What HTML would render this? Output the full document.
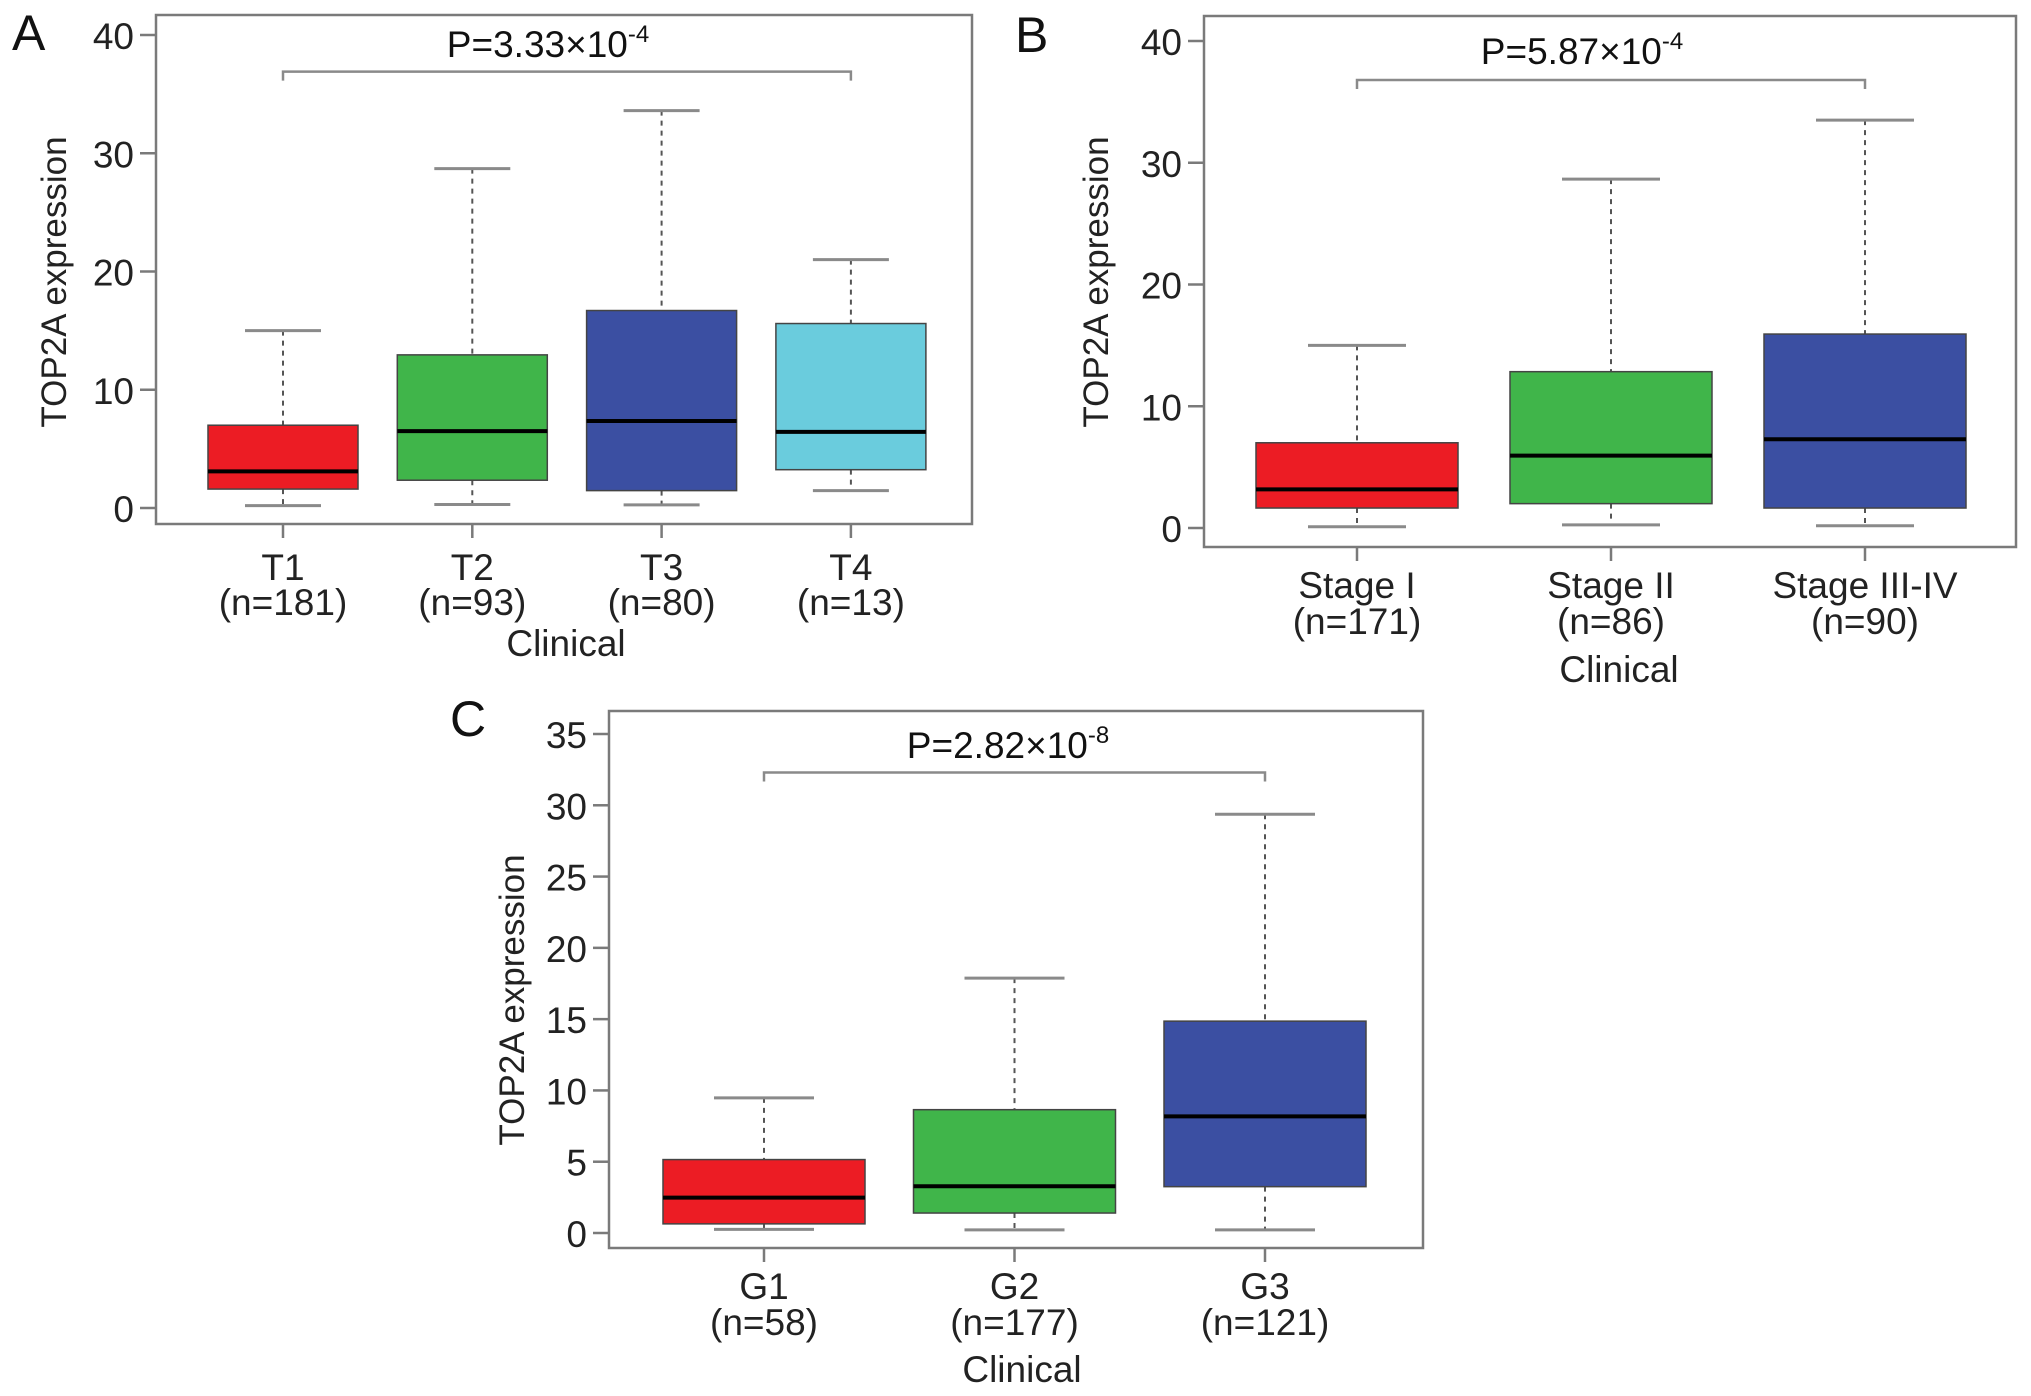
<!DOCTYPE html>
<html><head><meta charset="utf-8"><style>
html,body{margin:0;padding:0;background:#fff;}
svg{display:block;font-family:"Liberation Sans",Arial,sans-serif;}
</style></head><body>
<svg id="fig" width="2031" height="1396" viewBox="0 0 2031 1396"></svg>
<script>
// ---- Panel A data ----
const catsA = ["T1","T2","T3","T4"];
const nA = ["(n=181)","(n=93)","(n=80)","(n=13)"];
const loA = [0.2,0.3,0.26,1.47];
const q1A = [1.6,2.35,1.47,3.24];
const medA = [3.1,6.5,7.36,6.44];
const q3A = [7.0,12.95,16.7,15.6];
const hiA = [15.0,28.7,33.6,21.0];
const ticksA = [0,10,20,30,40];
const pA = ["3.33×10","-4"];
// ---- Panel B data ----
const catsB = ["Stage I","Stage II","Stage III-IV"];
const nB = ["(n=171)","(n=86)","(n=90)"];
const loB = [0.1,0.26,0.18];
const q1B = [1.64,2.0,1.64];
const medB = [3.17,5.94,7.29];
const q3B = [7.0,12.84,15.93];
const hiB = [15.0,28.66,33.5];
const ticksB = [0,10,20,30,40];
const pB = ["5.87×10","-4"];
// ---- Panel C data ----
const catsC = ["G1","G2","G3"];
const nC = ["(n=58)","(n=177)","(n=121)"];
const loC = [0.25,0.22,0.22];
const q1C = [0.64,1.4,3.25];
const medC = [2.48,3.28,8.18];
const q3C = [5.15,8.65,14.86];
const hiC = [9.48,17.88,29.37];
const ticksC = [0,5,10,15,20,25,30,35];
const pC = ["2.82×10","-8"];

const NS="http://www.w3.org/2000/svg";
const svg=document.getElementById('fig');
function mk(tag,attrs,parent,text){
  const e=document.createElementNS(NS,tag);
  for(const k in attrs) e.setAttribute(k,attrs[k]);
  if(text!==undefined) e.textContent=text;
  (parent||svg).appendChild(e); return e;
}
const colors=["#ec1c24","#40b54a","#3b4fa2","#6accdd"];

function panel(cfg, cats, ns, lo, q1, med, q3, hi, ticks, pv){
  const g=mk('g',{});
  
  
  const y=v=>cfg.y0+(cfg.yTop-cfg.y0)*(v-ticks[0])/(ticks[ticks.length-1]-ticks[0]);
  const x=i=>cfg.c0+i*cfg.step;
  const fr=mk('rect',{x:cfg.fl,y:cfg.ft,width:cfg.fr-cfg.fl,height:cfg.fb-cfg.ft,fill:'none',stroke:'#7a7a7a','stroke-width':2.5},g);
  
  
  const L=mk('text',{x:cfg.lx,y:cfg.ly,'font-size':50,fill:'#111'},g,cfg.letter);
  
  
  ticks.forEach(t=>{
    const ty=y(t);
    mk('line',{x1:cfg.fl-16,x2:cfg.fl,y1:ty,y2:ty,stroke:'#7a7a7a','stroke-width':2.5},g);
    const tl=mk('text',{x:cfg.fl-22,y:ty+14,'font-size':37,'text-anchor':'end',fill:'#222'},g,String(t));
    
    
  });
  const yt=mk('text',{x:0,y:0,'font-size':35,'text-anchor':'middle',fill:'#222',transform:`translate(${cfg.ytx},${cfg.yty}) rotate(-90)`},g,'TOP2A expression');
  
  
  cats.forEach((c,i)=>{
    const cx=x(i);
    const bg=mk('g',{},g);
    
    
    mk('line',{x1:cx,x2:cx,y1:y(hi[i]),y2:y(q3[i]),stroke:'#555','stroke-width':2,'stroke-dasharray':'5,5'},bg);
    mk('line',{x1:cx,x2:cx,y1:y(q1[i]),y2:y(lo[i]),stroke:'#555','stroke-width':2,'stroke-dasharray':'5,5'},bg);
    mk('line',{x1:cx-cfg.cap,x2:cx+cfg.cap,y1:y(hi[i]),y2:y(hi[i]),stroke:'#8a8a8a','stroke-width':3},bg);
    mk('line',{x1:cx-cfg.cap,x2:cx+cfg.cap,y1:y(lo[i]),y2:y(lo[i]),stroke:'#8a8a8a','stroke-width':3},bg);
    mk('rect',{x:cx-cfg.bw,y:y(q3[i]),width:2*cfg.bw,height:y(q1[i])-y(q3[i]),fill:colors[i],stroke:'#444','stroke-width':1.5},bg);
    mk('line',{x1:cx-cfg.bw,x2:cx+cfg.bw,y1:y(med[i]),y2:y(med[i]),stroke:'#000','stroke-width':4},bg);
    mk('line',{x1:cx,x2:cx,y1:cfg.fb,y2:cfg.fb+14,stroke:'#7a7a7a','stroke-width':2.5},g);
    const xl=mk('text',{x:cx,y:cfg.xl1,'font-size':37,'text-anchor':'middle',fill:'#222'},g,c);
    
    
    const nl=mk('text',{x:cx,y:cfg.xl2,'font-size':37,'text-anchor':'middle',fill:'#222'},g,ns[i]);
    
    
  });
  const xt=mk('text',{x:cfg.xtx,y:cfg.xty,'font-size':37,'text-anchor':'middle',fill:'#222'},g,'Clinical');
  
  
  const by=y(cfg.brV), x1=x(0), x2=x(cats.length-1);
  const br=mk('path',{d:`M${x1},${by+9}V${by}H${x2}V${by+9}`,fill:'none',stroke:'#8a8a8a','stroke-width':2.5},g);
  
  
  const pt=mk('text',{x:cfg.px,y:cfg.py,'font-size':37,'text-anchor':'middle',fill:'#111'},g);
  
  
  mk('tspan',{},pt,'P='+pv[0]);
  mk('tspan',{dy:-15,'font-size':24},pt,pv[1]);
}

panel({name:'panel-a',letter:'A',lx:12,ly:50,fl:156,ft:15,fr:972,fb:524,yTop:35,y0:508,
  c0:283,step:189.3,bw:75,cap:38,ytx:66,yty:282,xl1:580,xl2:615,xtx:566,xty:656,brV:36.9,px:548,py:57},
  catsA,nA,loA,q1A,medA,q3A,hiA,ticksA,pA);
panel({name:'panel-b',letter:'B',lx:1015,ly:52,fl:1204,ft:16,fr:2016,fb:547,yTop:41,y0:528,
  c0:1357,step:254,bw:101,cap:49,ytx:1108,yty:282,xl1:598,xl2:634,xtx:1619,xty:682,brV:36.8,px:1582,py:64},
  catsB,nB,loB,q1B,medB,q3B,hiB,ticksB,pB);
panel({name:'panel-c',letter:'C',lx:450,ly:736,fl:609,ft:711,fr:1423,fb:1248,yTop:734,y0:1233,
  c0:764,step:250.5,bw:101,cap:50,ytx:524,yty:1000,xl1:1299,xl2:1335,xtx:1022,xty:1382,brV:32.3,px:1008,py:758},
  catsC,nC,loC,q1C,medC,q3C,hiC,ticksC,pC);
</script>
</body></html>
